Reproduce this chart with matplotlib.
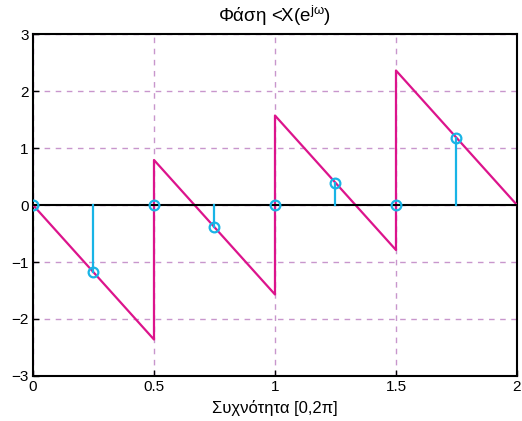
import matplotlib
matplotlib.use("Agg")
import matplotlib.pyplot as plt

# Phase line (x in units of pi)
line_x = [0, 0.5, 0.5, 1.0, 1.0, 1.5, 1.5, 2.0]
line_y = [0, -2.36, 0.79, -1.57, 1.57, -0.79, 2.36, 0]

# Sampled stems
stem_x = [0, 0.25, 0.5, 0.75, 1.0, 1.25, 1.5, 1.75]
stem_y = [0, -1.18, 0, -0.39, 0, 0.39, 0, 1.18]

xticks = [0, 0.5, 1, 1.5, 2]
yticks = [-3, -2, -1, 0, 1, 2, 3]

plt.rcParams['font.family'] = ['Liberation Sans', 'DejaVu Sans']
plt.rcParams['mathtext.fontset'] = 'custom'
plt.rcParams['mathtext.rm'] = 'Liberation Sans'
plt.rcParams['mathtext.it'] = 'Liberation Sans'

fig = plt.figure(figsize=(5.22, 4.21), dpi=100)
ax = fig.add_axes([0.0632, 0.1069, 0.9272, 0.8123])

magenta = '#dc148c'
cyan = '#18b4e6'
gridc = '#c896cc'

ax.set_xlim(0, 2)
ax.set_ylim(-3, 3)
ax.set_xticks(xticks)
ax.set_xticklabels(['0', '0.5', '1', '1.5', '2'])
ax.set_yticks(yticks)
ax.grid(True, color=gridc, linestyle=(0, (4, 4)), linewidth=1.0)
ax.set_axisbelow(True)

ax.plot(line_x, line_y, color=magenta, linewidth=1.6, zorder=3)
ax.axhline(0, color='black', linewidth=1.5, zorder=4)
for x, y in zip(stem_x, stem_y):
    ax.plot([x, x], [0, y], color=cyan, linewidth=1.6, zorder=5)
ax.plot(stem_x, stem_y, linestyle='none', marker='o', markersize=7,
        markerfacecolor='none', markeredgecolor=cyan, markeredgewidth=1.6, zorder=6)

for s in ax.spines.values():
    s.set_linewidth(1.5)
ax.tick_params(direction='in', length=4, width=1, labelsize=11, pad=3)

ax.set_title(r'Φάση <X(e$^{\mathrm{j\omega}}$)', fontsize=13.5, pad=9)
ax.set_xlabel('Συχνότητα [0,2π]', fontsize=12, labelpad=4)

fig.savefig('out.png', dpi=100)
